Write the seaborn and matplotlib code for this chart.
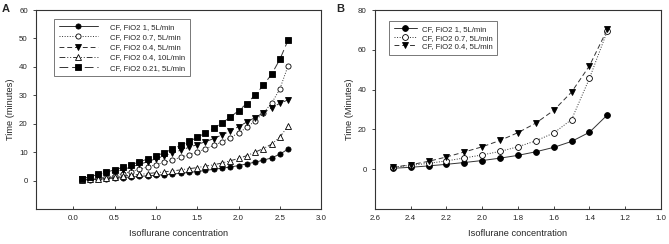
import matplotlib
matplotlib.use('Agg')
import matplotlib.pyplot as plt
import seaborn as sns
import pandas as pd
import numpy as np

# ---- panel A data ----
conc_a = [0.1, 0.2, 0.3, 0.4, 0.5, 0.6, 0.7, 0.8, 0.9, 1.0, 1.1, 1.2, 1.3,
          1.4, 1.5, 1.6, 1.7, 1.8, 1.9, 2.0, 2.1, 2.2, 2.3, 2.4, 2.5, 2.6]
a_fio2_1 = [0.2, 0.3, 0.5, 0.7, 0.9, 1.1, 1.3, 1.5, 1.7, 1.9, 2.1, 2.3, 2.6,
            2.9, 3.2, 3.6, 4.0, 4.4, 4.8, 5.3, 5.9, 6.5, 7.2, 8.0, 9.3, 11.1]
a_fio2_07 = [0.3, 0.5, 0.8, 1.2, 1.8, 2.5, 3.2, 4.0, 4.8, 5.6, 6.4, 7.3, 8.2,
             9.1, 10.0, 11.2, 12.4, 13.7, 15.1, 16.8, 18.7, 21.0, 23.8, 27.2, 32.2, 40.4]
a_fio2_04 = [0.5, 1.0, 1.6, 2.3, 3.1, 3.9, 4.8, 5.7, 6.7, 7.7, 8.7, 9.7, 10.7,
             11.7, 12.7, 13.7, 14.8, 16.1, 17.4, 19.0, 20.6, 22.2, 23.8, 25.6, 27.2, 28.4]
a_fio2_04_10 = [0.3, 0.5, 0.7, 1.0, 1.3, 1.6, 1.9, 2.2, 2.5, 2.8, 3.1, 3.4, 3.8,
                4.2, 4.6, 5.1, 5.6, 6.2, 7.0, 7.8, 8.8, 10.0, 11.3, 12.8, 15.3, 19.2]
a_fio2_021 = [0.7, 1.4, 2.2, 3.0, 3.8, 4.7, 5.6, 6.6, 7.6, 8.7, 9.8, 11.1, 12.4,
              13.8, 15.2, 16.8, 18.5, 20.3, 22.3, 24.6, 27.1, 30.1, 33.5, 37.4, 42.6, 49.4]

# ---- panel B data ----
conc_b = [2.5, 2.4, 2.3, 2.2, 2.1, 2.0, 1.9, 1.8, 1.7, 1.6, 1.5, 1.4, 1.3]
b_fio2_1 = [0.5, 1.0, 1.7, 2.5, 3.4, 4.4, 5.6, 7.0, 8.8, 11.0, 14.0, 18.6, 27.3]
b_fio2_07 = [1.0, 2.0, 3.0, 4.2, 5.7, 7.2, 9.0, 11.3, 14.3, 18.2, 25.0, 45.7, 69.5]
b_fio2_04 = [1.0, 2.3, 4.0, 6.2, 8.7, 11.3, 14.5, 18.4, 23.2, 29.6, 38.8, 52.0, 70.3]

sns.set_style('ticks')
plt.rcParams['font.family'] = ['Liberation Sans', 'DejaVu Sans']

# (label, values, linestyle, marker, facecolor)
series_a = [
    ('CF, FiO2 1, 5L/min', a_fio2_1, '-', 'o', 'black'),
    ('CF, FiO2 0.7, 5L/min', a_fio2_07, ':', 'o', 'white'),
    ('CF, FiO2 0.4, 5L/min', a_fio2_04, (0, (5, 3)), 'v', 'black'),
    ('CF, FiO2 0.4, 10L/min', a_fio2_04_10, (0, (6, 2, 1, 2, 1, 2)), '^', 'white'),
    ('CF, FiO2 0.21, 5L/min', a_fio2_021, (0, (9, 4)), 's', 'black'),
]
series_b = [
    ('CF, FiO2 1, 5L/min', b_fio2_1, '-', 'o', 'black'),
    ('CF, FiO2 0.7, 5L/min', b_fio2_07, ':', 'o', 'white'),
    ('CF, FiO2 0.4, 5L/min', b_fio2_04, (0, (5, 3)), 'v', 'black'),
]

fig = plt.figure(figsize=(6.69, 2.44), dpi=100)
ax_a = fig.add_axes([0.054, 0.143, 0.426, 0.816])
ax_b = fig.add_axes([0.5605, 0.143, 0.4275, 0.816])


def draw(ax, x, series, ms):
    for label, vals, ls, mk, fc in series:
        df = pd.DataFrame({'x': x, 'y': vals})
        sns.lineplot(data=df, x='x', y='y', ax=ax, label=label, color='#333333',
                     linestyle=ls, linewidth=0.7, marker=mk, markersize=ms,
                     markerfacecolor=fc, markeredgecolor='black',
                     markeredgewidth=0.6, estimator=None, sort=False)


draw(ax_a, conc_a, series_a, 3.7)
draw(ax_b, conc_b, series_b, 4.2)

for ax in (ax_a, ax_b):
    for sp in ax.spines.values():
        sp.set_visible(True)
        sp.set_linewidth(0.8)
        sp.set_color('#333333')
    ax.tick_params(axis='x', direction='in', length=2.5, width=0.6, labelsize=5.7, pad=4)
    ax.tick_params(axis='y', direction='out', length=2.5, width=0.6, labelsize=5.7)
    ax.set_xlabel('Isoflurane concentration', fontsize=6.7, labelpad=5)

ax_a.set_xlim(-0.45, 3.0)
ax_a.set_ylim(-10, 60)
ax_a.set_xticks([0.0, 0.5, 1.0, 1.5, 2.0, 2.5, 3.0])
ax_a.set_xticklabels(['0.0', '0.5', '1.0', '1.5', '2.0', '2.5', '3.0'])
ax_a.set_yticks([0, 10, 20, 30, 40, 50, 60])
ax_a.set_ylabel('Time (minutes)', fontsize=6.7, labelpad=3)

ax_b.set_xlim(2.6, 1.0)
ax_b.set_ylim(-20, 80)
ax_b.set_xticks([2.6, 2.4, 2.2, 2.0, 1.8, 1.6, 1.4, 1.2, 1.0])
ax_b.set_xticklabels(['2.6', '2.4', '2.2', '2.0', '1.8', '1.6', '1.4', '1.2', '1.0'])
ax_b.set_yticks([0, 20, 40, 60, 80])
ax_b.set_ylabel('Time (Minutes)', fontsize=6.7, labelpad=3)

leg = ax_a.legend(loc='upper left', bbox_to_anchor=(0.049, 0.975), fontsize=5.6,
                  frameon=True, fancybox=False, edgecolor='#555555', handlelength=5.0,
                  handletextpad=1.6, labelspacing=0.35, borderpad=0.6)
leg.get_frame().set_linewidth(0.7)
leg = ax_b.legend(loc='upper left', bbox_to_anchor=(0.035, 0.965), fontsize=5.6,
                  frameon=True, fancybox=False, edgecolor='#555555', handlelength=3.0,
                  handletextpad=0.6, labelspacing=0.15, borderpad=0.6)
leg.get_frame().set_linewidth(0.7)

fig.text(0.003, 0.985, 'A', fontsize=8, fontweight='bold', va='top')
fig.text(0.502, 0.985, 'B', fontsize=8, fontweight='bold', va='top')

fig.savefig('out.png', dpi=100)
